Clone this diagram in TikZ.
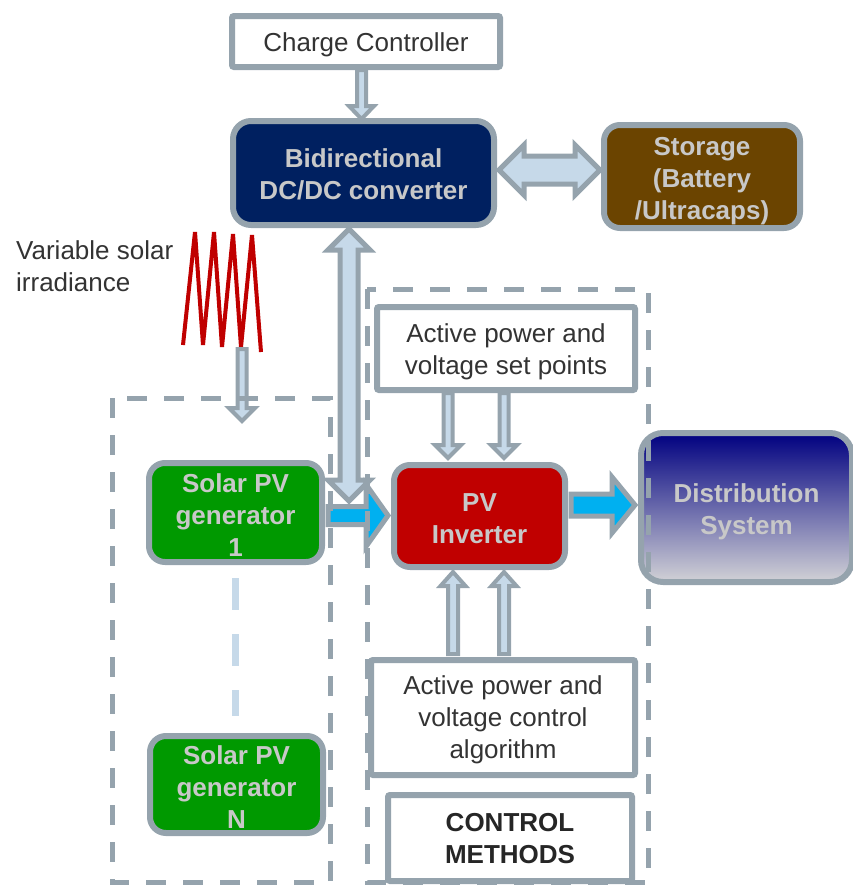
\documentclass[tikz,border=0pt]{standalone}
\usepackage{fontspec}
\setmainfont{Liberation Sans}
\usetikzlibrary{calc}
\definecolor{bord}{HTML}{95A3AD}
\definecolor{lblue}{HTML}{C6D9E9}
\definecolor{navybox}{HTML}{002060}
\definecolor{brownbox}{HTML}{6B4400}
\definecolor{gbox}{HTML}{009900}
\definecolor{rbox}{HTML}{C00000}
\definecolor{cyanar}{HTML}{00B0F0}
\definecolor{txtd}{HTML}{333333}
\definecolor{txtl}{HTML}{C8C8C8}
\definecolor{distop}{HTML}{000080}
\definecolor{disbot}{HTML}{D2D2D6}

% single block arrow: [opts]{from}{to}{shaft half width}{head half width}{head length}
\newcommand\blockarrow[6][]{%
  \coordinate (ba-h) at ($(#3)!#6!(#2)$);
  \draw[#1] ($(#2)!#4!90:(#3)$) -- ($(ba-h)!#4!90:(#3)$) -- ($(ba-h)!#5!90:(#3)$)
    -- (#3) -- ($(ba-h)!#5!-90:(#3)$) -- ($(ba-h)!#4!-90:(#3)$)
    -- ($(#2)!#4!-90:(#3)$) -- cycle;
}
% double block arrow
\newcommand\dblarrow[6][]{%
  \coordinate (da-h1) at ($(#2)!#6!(#3)$);
  \coordinate (da-h2) at ($(#3)!#6!(#2)$);
  \draw[#1] (#2) -- ($(da-h1)!#5!-90:(#2)$) -- ($(da-h1)!#4!-90:(#2)$)
    -- ($(da-h2)!#4!90:(#3)$) -- ($(da-h2)!#5!90:(#3)$) -- (#3)
    -- ($(da-h2)!#5!-90:(#3)$) -- ($(da-h2)!#4!-90:(#3)$)
    -- ($(da-h1)!#4!90:(#2)$) -- ($(da-h1)!#5!90:(#2)$) -- cycle;
}

\tikzset{
  box/.style={draw=bord, line width=6pt, inner sep=0pt},
  wbox/.style={box, fill=white, rounded corners=2pt},
  cbox/.style={box, rounded corners=18pt},
  tdark/.style={align=center, inner sep=0pt, text=txtd,
    font=\fontsize{26}{32}\selectfont},
  tlight/.style={align=center, inner sep=0pt, text=txtl,
    font=\fontsize{26}{32}\selectfont\bfseries},
  larrow/.style={draw=bord, fill=lblue, line width=4pt},
  carrow/.style={draw=bord, fill=cyanar, line width=5pt},
  dbox/.style={draw=bord, line width=5pt, dash pattern=on 20pt off 17pt},
}

\begin{document}
\begin{tikzpicture}[x=1pt, y=-1pt]
\useasboundingbox (0,0) rectangle (853,886);

% boxes
\node[wbox, minimum width=268, minimum height=51,
  label={[tdark, yshift=-3pt]center:Charge Controller}] (cc) at (366,41.5) {};
\node[cbox, fill=navybox, minimum width=261, minimum height=104,
  label={[tlight, yshift=-1.5pt]center:Bidirectional\\DC/DC converter}] (bidi) at (363.5,173) {};
\node[cbox, fill=brownbox, rounded corners=16pt, minimum width=196, minimum height=103,
  label={[tlight, yshift=-5pt]center:Storage\\(Battery\\/Ultracaps)}] (stor) at (702,176.5) {};
\node[wbox, minimum width=258, minimum height=83,
  label={[tdark, yshift=-3pt]center:Active power and\\voltage set points}] (sp) at (506,348.5) {};
\node[cbox, fill=gbox, rounded corners=16pt, minimum width=173, minimum height=99,
  label={[tlight, yshift=-2.5pt]center:Solar PV\\generator\\1}] (gen1) at (235.5,512.5) {};
\node[cbox, fill=gbox, rounded corners=16pt, minimum width=173, minimum height=97,
  label={[tlight, yshift=-2.5pt]center:Solar PV\\generator\\N}] (genN) at (236.5,784.5) {};
\node[cbox, fill=rbox, rounded corners=16pt, minimum width=171, minimum height=102,
  label={[tlight, yshift=-2.5pt]center:PV\\Inverter}] (inv) at (479.5,516) {};
\node[cbox, top color=distop, bottom color=disbot, rounded corners=22pt,
  minimum width=211, minimum height=149,
  label={[tlight, yshift=-4pt]center:Distribution\\System}] (dist) at (746.5,507.5) {};
\node[wbox, minimum width=264, minimum height=115,
  label={[tdark, yshift=-2.5pt]center:Active power and\\voltage control\\algorithm}] (alg) at (503,717.5) {};
\node[wbox, minimum width=244, minimum height=86,
  label={[tdark, text=black!85, font=\fontsize{26}{32}\selectfont\bfseries, yshift=-1pt]center:CONTROL\\METHODS}] (cm) at (510,838) {};
\node[anchor=west, align=left, text=txtd, inner sep=0pt,
  font=\fontsize{26}{32}\selectfont] (var) at (16,266) {Variable solar\\irradiance};

% irradiance zigzag
\draw[rbox, line width=4pt] (183,345) -- (195,232) -- (203,345) -- (214,232) -- (222,347)
  -- (233,234) -- (241,347) -- (252,235) -- (261,352);
\coordinate (zz) at (242,349);
\coordinate (zzb) at (242,421);

% connector coordinates
\coordinate (cca) at ($(cc.south)+(-4.5,0)$);
\coordinate (ccb) at ($(bidi.north)+(-2,1)$);
\coordinate (sb1) at ($(bidi.east)+(2,-3)$);
\coordinate (sb2) at ($(stor.west)+(-1,-6.5)$);
\coordinate (vb1) at ($(bidi.south)+(-14.5,1)$);
\coordinate (vb2) at (349,501);
\coordinate (sp1) at ($(sp.south)+(-58,0)$);
\coordinate (ip1) at ($(inv.north)+(-31.5,-4)$);
\coordinate (sp2) at ($(sp.south)+(-2,0)$);
\coordinate (ip2) at ($(inv.north)+(24.5,-4)$);
\coordinate (al1) at ($(alg.north)+(-50,-3)$);
\coordinate (ia1) at ($(inv.south)+(-26.5,2)$);
\coordinate (al2) at ($(alg.north)+(1,-3)$);
\coordinate (ia2) at ($(inv.south)+(24.5,2)$);
\coordinate (g1) at ($(gen1.east)+(3,3)$);
\coordinate (i1) at ($(inv.west)+(-3,-0.5)$);
\coordinate (i2) at ($(inv.east)+(3,-11)$);
\coordinate (d2) at ($(dist.west)+(-3,-2.5)$);
\coordinate (gl1) at ($(gen1.south)+(-0.5,13)$);
\coordinate (gl2) at ($(genN.north)+(-1.5,-17)$);

% light blue arrows
\blockarrow[larrow]{cca}{ccb}{4.5pt}{12.5pt}{13pt}
\dblarrow[larrow, line width=5pt]{sb1}{sb2}{14pt}{25pt}{25pt}
\dblarrow[larrow, line width=5pt]{vb1}{vb2}{9pt}{21pt}{21pt}
\blockarrow[larrow]{zz}{zzb}{4.5pt}{13pt}{13pt}
\blockarrow[larrow]{sp1}{ip1}{4.5pt}{13pt}{13pt}
\blockarrow[larrow]{sp2}{ip2}{4.5pt}{13pt}{13pt}
\blockarrow[larrow]{al1}{ia1}{5pt}{12.5pt}{14pt}
\blockarrow[larrow]{al2}{ia2}{5pt}{12.5pt}{14pt}

% power flow arrows
\blockarrow[carrow]{g1}{i1}{9pt}{31pt}{22pt}
\blockarrow[carrow]{i2}{d2}{11pt}{28pt}{23pt}

% PV generators continuation
\draw[lblue, line width=7pt, dash pattern=on 32pt off 24pt] (gl1) -- (gl2);

% dashed groups
\draw[dbox] (112,398) rectangle (330,882);
\draw[dbox] (367,289) rectangle (648,882);
\end{tikzpicture}
\end{document}
